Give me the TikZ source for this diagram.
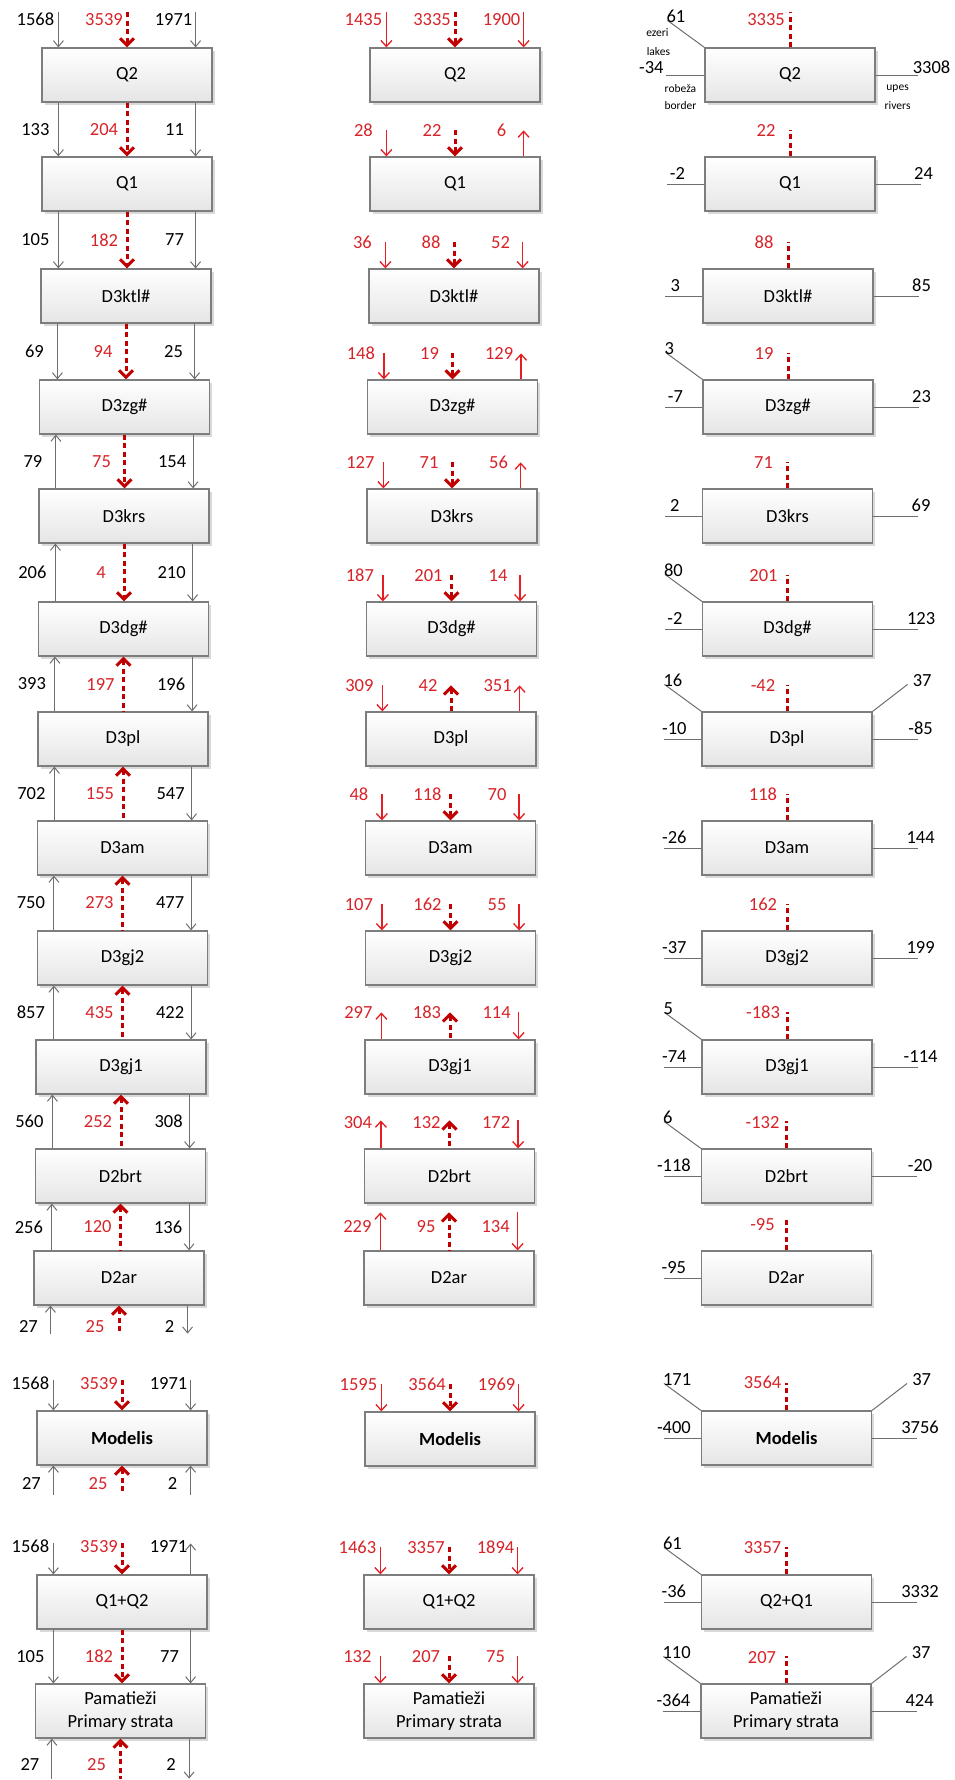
\documentclass[tikz,border=0pt]{standalone}
\usepackage{fontspec}
\setmainfont{Carlito}
\usetikzlibrary{arrows.meta,calc,shadows}
\definecolor{gline}{RGB}{110,110,110}
\definecolor{dred}{RGB}{192,0,0}
\definecolor{lred}{RGB}{228,30,35}
\definecolor{txtred}{RGB}{215,35,40}
\definecolor{bord}{RGB}{125,125,125}
\definecolor{boxbot}{RGB}{229,229,229}
\tikzset{
 box/.style={draw=bord, line width=1.2pt, top color=white, bottom color=boxbot,
   minimum width=170pt, minimum height=54pt, inner sep=0pt, align=center,
   font=\fontsize{18.5}{23}\selectfont,
   drop shadow={shadow xshift=2.5pt, shadow yshift=-2.5pt, fill=black, opacity=0.15}},
 garr/.style={draw=gline, line width=1pt, >={Straight Barb[length=6pt,width=10pt]}},
 rdash/.style={draw=dred, line width=3pt, dash pattern=on 5pt off 3.5pt, >={Straight Barb[length=7pt,width=14pt]}},
 rarr/.style={draw=lred, line width=1.3pt, >={Straight Barb[length=6pt,width=11pt]}},
 num/.style={font=\fontsize{18.5}{20}\selectfont, inner sep=0pt, text=black},
 rnum/.style={num, text=txtred},
 smalllab/.style={font=\fontsize{11.5}{12}\selectfont, inner sep=0pt, text=black},
 pline/.style={draw=gline, line width=1pt},
 sidearr/.style={garr},
 sidelab/.style={num},
}
% arrows between two boxes of the left column
\newcommand{\lgap}[8]{%
  \path ($(#1.south west)+(17,0)$) coordinate (pa)
        (#1.south) coordinate (pb)
        ($(#1.south east)+(-17,0)$) coordinate (pc);
  \path (pa |- #2.north) coordinate (qa) (pb |- #2.north) coordinate (qb) (pc |- #2.north) coordinate (qc);
  \draw[garr,#4] (pa) -- (qa);
  \draw[rdash,#6] (pb) -- (qb);
  \draw[garr,#8] (pc) -- (qc);
  \node[num] at ($(pa)!0.5!(qa)+(-23,0)$) {#3};
  \node[rnum] at ($(pb)!0.5!(qb)+(-23,0)$) {#5};
  \node[num] at ($(pc)!0.5!(qc)+(-21,0)$) {#7};
}
% arrows above a box, free upper ends
\newcommand{\abovebox}[9]{%
  \path ($(#1.north west)+(17,0)$) coordinate (pa)
        (#1.north) coordinate (pb)
        ($(#1.north east)+(-17,0)$) coordinate (pc);
  \draw[sidearr,#5] ($(pa)+(0,-#2)$) coordinate (fa) -- (pa);
  \draw[rdash,#7] ($(pb)+(0,-#2)$) coordinate (fb) -- (pb);
  \draw[sidearr,#9] ($(pc)+(0,-#2)$) coordinate (fc) -- (pc);
  \node[sidelab] at ($(pa)+(-23,-#3)$) {#4};
  \node[rnum] at ($(pb)+(-23,-#3)$) {#6};
  \node[sidelab] at ($(pc)+(-22,-#3)$) {#8};
}
% arrows below a box, free lower ends
\newcommand{\belowbox}[9]{%
  \path ($(#1.south west)+(17,0)$) coordinate (pa)
        (#1.south) coordinate (pb)
        ($(#1.south east)+(-17,0)$) coordinate (pc);
  \draw[sidearr,#5] (pa) -- ($(pa)+(0,#2)$) coordinate (fa);
  \draw[rdash,#7] (pb) -- ($(pb)+(0,#2)$) coordinate (fb);
  \draw[sidearr,#9] (pc) -- ($(pc)+(0,#2)$) coordinate (fc);
  \node[sidelab] at ($(pa)+(-22,#3)$) {#4};
  \node[rnum] at ($(pb)+(-24,#3)$) {#6};
  \node[sidelab] at ($(pc)+(-18,#3)$) {#8};
}
% right column helpers
\newcommand{\rred}[4]{%
  \draw[rdash] (#1.north) -- ++(0,-#3) coordinate (fr);
  \node[rnum] at ($(#1.north)+(-24,-#4)$) {#2};
}
\newcommand{\rleft}[2]{%
  \draw[pline] (#1.west) -- ++(-37,0) coordinate (fl);
  \node[num,anchor=base] at ($(#1.west)+(-27,-5)$) {#2};
}
\newcommand{\rright}[2]{%
  \draw[pline] (#1.east) -- ++(45,0) coordinate (fe);
  \node[num,anchor=base] at ($(#1.east)+(48,-5)$) {#2};
}
\newcommand{\rtl}[2]{%
  \draw[pline] (#1.north west) -- ++(-37,-27) coordinate (fd);
  \node[num,anchor=base west] at ($(#1.north west)+(-38,-25)$) {#2};
}
\newcommand{\rtr}[2]{%
  \draw[pline] (#1.north east) -- ++(35,-27) coordinate (fg);
  \node[num,anchor=base west] at ($(#1.north east)+(40,-25)$) {#2};
}
\begin{document}
\begin{tikzpicture}[x=1pt,y=-1pt]
\useasboundingbox (0,0) rectangle (955,1780);

% ---------------- left column
\node[box] (L1) at (127,75) {Q2};
\node[box] (L2) at (127,184) {Q1};
\node[box] (L3) at (126,296) {D3ktl\#};
\node[box] (L4) at (124.5,407) {D3zg\#};
\node[box] (L5) at (124,516) {D3krs};
\node[box] (L6) at (123.5,629) {D3dg\#};
\node[box] (L7) at (123,739) {D3pl};
\node[box] (L8) at (122.5,848) {D3am};
\node[box] (L9) at (122.5,958) {D3gj2};
\node[box] (L10) at (121,1067) {D3gj1};
\node[box] (L11) at (120.5,1176) {D2brt};
\node[box] (L12) at (119,1278) {D2ar};
\node[box] (L13) at (122,1438) {\textbf{Modelis}};
\node[box] (L14) at (122,1602) {Q1+Q2};
\node[box] (L15) at (120.5,1711) {Pamatieži\\Primary strata};

\abovebox{L1}{35}{28}{1568}{->}{3539}{->}{1971}{->}
\lgap{L1}{L2}{133}{->}{204}{->}{11}{->}
\lgap{L2}{L3}{105}{->}{182}{->}{77}{->}
\lgap{L3}{L4}{69}{->}{94}{->}{25}{->}
\lgap{L4}{L5}{79}{<-}{75}{->}{154}{->}
\lgap{L5}{L6}{206}{<-}{4}{->}{210}{->}
\lgap{L6}{L7}{393}{<-}{197}{<-}{196}{->}
\lgap{L7}{L8}{702}{<-}{155}{<-}{547}{->}
\lgap{L8}{L9}{750}{<-}{273}{<-}{477}{->}
\lgap{L9}{L10}{857}{<-}{435}{<-}{422}{->}
\lgap{L10}{L11}{560}{<-}{252}{<-}{308}{->}
\lgap{L11}{L12}{256}{<-}{120}{<-}{136}{->}
\belowbox{L12}{28}{21}{27}{<-}{25}{<-}{2}{->}
\abovebox{L13}{30}{27}{1568}{->}{3539}{->}{1971}{->}
\belowbox{L13}{29}{18}{27}{<-}{25}{<-}{2}{<-}
\abovebox{L14}{31}{28}{1568}{->}{3539}{->}{1971}{<-}
\lgap{L14}{L15}{105}{->}{182}{->}{77}{->}
\belowbox{L15}{40}{26}{27}{<-}{25}{<-}{2}{->}

% ---------------- middle column
\node[box] (M1) at (455,75) {Q2};
\node[box] (M2) at (455,184) {Q1};
\node[box] (M3) at (454,296) {D3ktl\#};
\node[box] (M4) at (452.5,407) {D3zg\#};
\node[box] (M5) at (452,516) {D3krs};
\node[box] (M6) at (451.5,629) {D3dg\#};
\node[box] (M7) at (451,739) {D3pl};
\node[box] (M8) at (450.5,848) {D3am};
\node[box] (M9) at (450.5,958) {D3gj2};
\node[box] (M10) at (450,1067) {D3gj1};
\node[box] (M11) at (449.5,1176) {D2brt};
\node[box] (M12) at (449,1278) {D2ar};
\node[box] (M13) at (450,1439) {\textbf{Modelis}};
\node[box] (M14) at (449,1602) {Q1+Q2};
\node[box] (M15) at (449,1711) {Pamatieži\\Primary strata};

\begin{scope}[sidearr/.style={rarr}, sidelab/.style={rnum}]
\abovebox{M1}{35}{28}{1435}{->}{3335}{->}{1900}{->}
\abovebox{M2}{26}{26}{28}{->}{22}{->}{6}{<-}
\abovebox{M3}{26}{26}{36}{->}{88}{->}{52}{->}
\abovebox{M4}{26}{26}{148}{->}{19}{->}{129}{<-}
\abovebox{M5}{26}{26}{127}{->}{71}{->}{56}{<-}
\abovebox{M6}{26}{26}{187}{->}{201}{->}{14}{->}
\abovebox{M7}{26}{26}{309}{->}{42}{<-}{351}{<-}
\abovebox{M8}{26}{26}{48}{->}{118}{->}{70}{->}
\abovebox{M9}{26}{26}{107}{->}{162}{->}{55}{->}
\abovebox{M10}{27}{27}{297}{<-}{183}{<-}{114}{->}
\abovebox{M11}{28}{26}{304}{<-}{132}{<-}{172}{->}
\abovebox{M12}{38}{24}{229}{<-}{95}{<-}{134}{->}
\abovebox{M13}{27}{27}{1595}{->}{3564}{->}{1969}{->}
\abovebox{M14}{27}{27}{1463}{->}{3357}{->}{1894}{->}
\abovebox{M15}{27}{27}{132}{->}{207}{->}{75}{->}
\end{scope}

% ---------------- right column
\node[box] (R1) at (790,75) {Q2};
\node[box] (R2) at (790,184) {Q1};
\node[box] (R3) at (788,296) {D3ktl\#};
\node[box] (R4) at (788,407) {D3zg\#};
\node[box] (R5) at (787.5,516) {D3krs};
\node[box] (R6) at (787.5,629) {D3dg\#};
\node[box] (R7) at (787,739) {D3pl};
\node[box] (R8) at (787,848) {D3am};
\node[box] (R9) at (787,958) {D3gj2};
\node[box] (R10) at (787,1067) {D3gj1};
\node[box] (R11) at (786.5,1176) {D2brt};
\node[box] (R12) at (786.5,1278) {D2ar};
\node[box] (R13) at (786.5,1438) {\textbf{Modelis}};
\node[box] (R14) at (786.5,1602) {Q2+Q1};
\node[box] (R15) at (786,1711) {Pamatieži\\Primary strata};

% R1 with annotations
\rred{R1}{3335}{35}{28}
\rtl{R1}{61}
\draw[pline] (R1.west) -- ++(-38,0) coordinate (fl);
\node[num,anchor=base] at ($(R1.west)+(-53,-2)$) {-34};
\draw[pline] (R1.east) -- ++(42,0) coordinate (fe);
\node[num,anchor=base] at ($(R1.east)+(56,-2)$) {3308};
\node[smalllab] at ($(R1.north west)+(-47,-15)$) {ezeri};
\node[smalllab] at ($(R1.north west)+(-46,4)$) {lakes};
\node[smalllab] at ($(R1.west)+(-24,14)$) {robeža};
\node[smalllab] at ($(R1.west)+(-24,31)$) {border};
\node[smalllab] at ($(R1.east)+(22,14)$) {upes};
\node[smalllab] at ($(R1.east)+(22,31)$) {rivers};

\rred{R2}{22}{26}{26}  \rleft{R2}{-2}   \rright{R2}{24}
\rred{R3}{88}{26}{26}  \rleft{R3}{3}    \rright{R3}{85}
\rred{R4}{19}{26}{26}  \rtl{R4}{3}  \rleft{R4}{-7}   \rright{R4}{23}
\rred{R5}{71}{26}{26}  \rleft{R5}{2}    \rright{R5}{69}
\rred{R6}{201}{26}{26} \rtl{R6}{80} \rleft{R6}{-2}   \rright{R6}{123}
\rred{R7}{-42}{26}{26} \rtl{R7}{16} \rtr{R7}{37} \rleft{R7}{-10} \rright{R7}{-85}
\rred{R8}{118}{26}{26} \rleft{R8}{-26}  \rright{R8}{144}
\rred{R9}{162}{26}{26} \rleft{R9}{-37}  \rright{R9}{199}
\rred{R10}{-183}{27}{27} \rtl{R10}{5} \rleft{R10}{-74} \rright{R10}{-114}
\rred{R11}{-132}{27}{26} \rtl{R11}{6} \rleft{R11}{-118} \rright{R11}{-20}
\rred{R12}{-95}{30}{26} \rleft{R12}{-95}
\rred{R13}{3564}{27}{28} \rtl{R13}{171} \rtr{R13}{37} \rleft{R13}{-400} \rright{R13}{3756}
\rred{R14}{3357}{27}{27} \rtl{R14}{61} \rleft{R14}{-36} \rright{R14}{3332}
\rred{R15}{207}{27}{26} \rtl{R15}{110} \rtr{R15}{37} \rleft{R15}{-364} \rright{R15}{424}

\end{tikzpicture}
\end{document}
